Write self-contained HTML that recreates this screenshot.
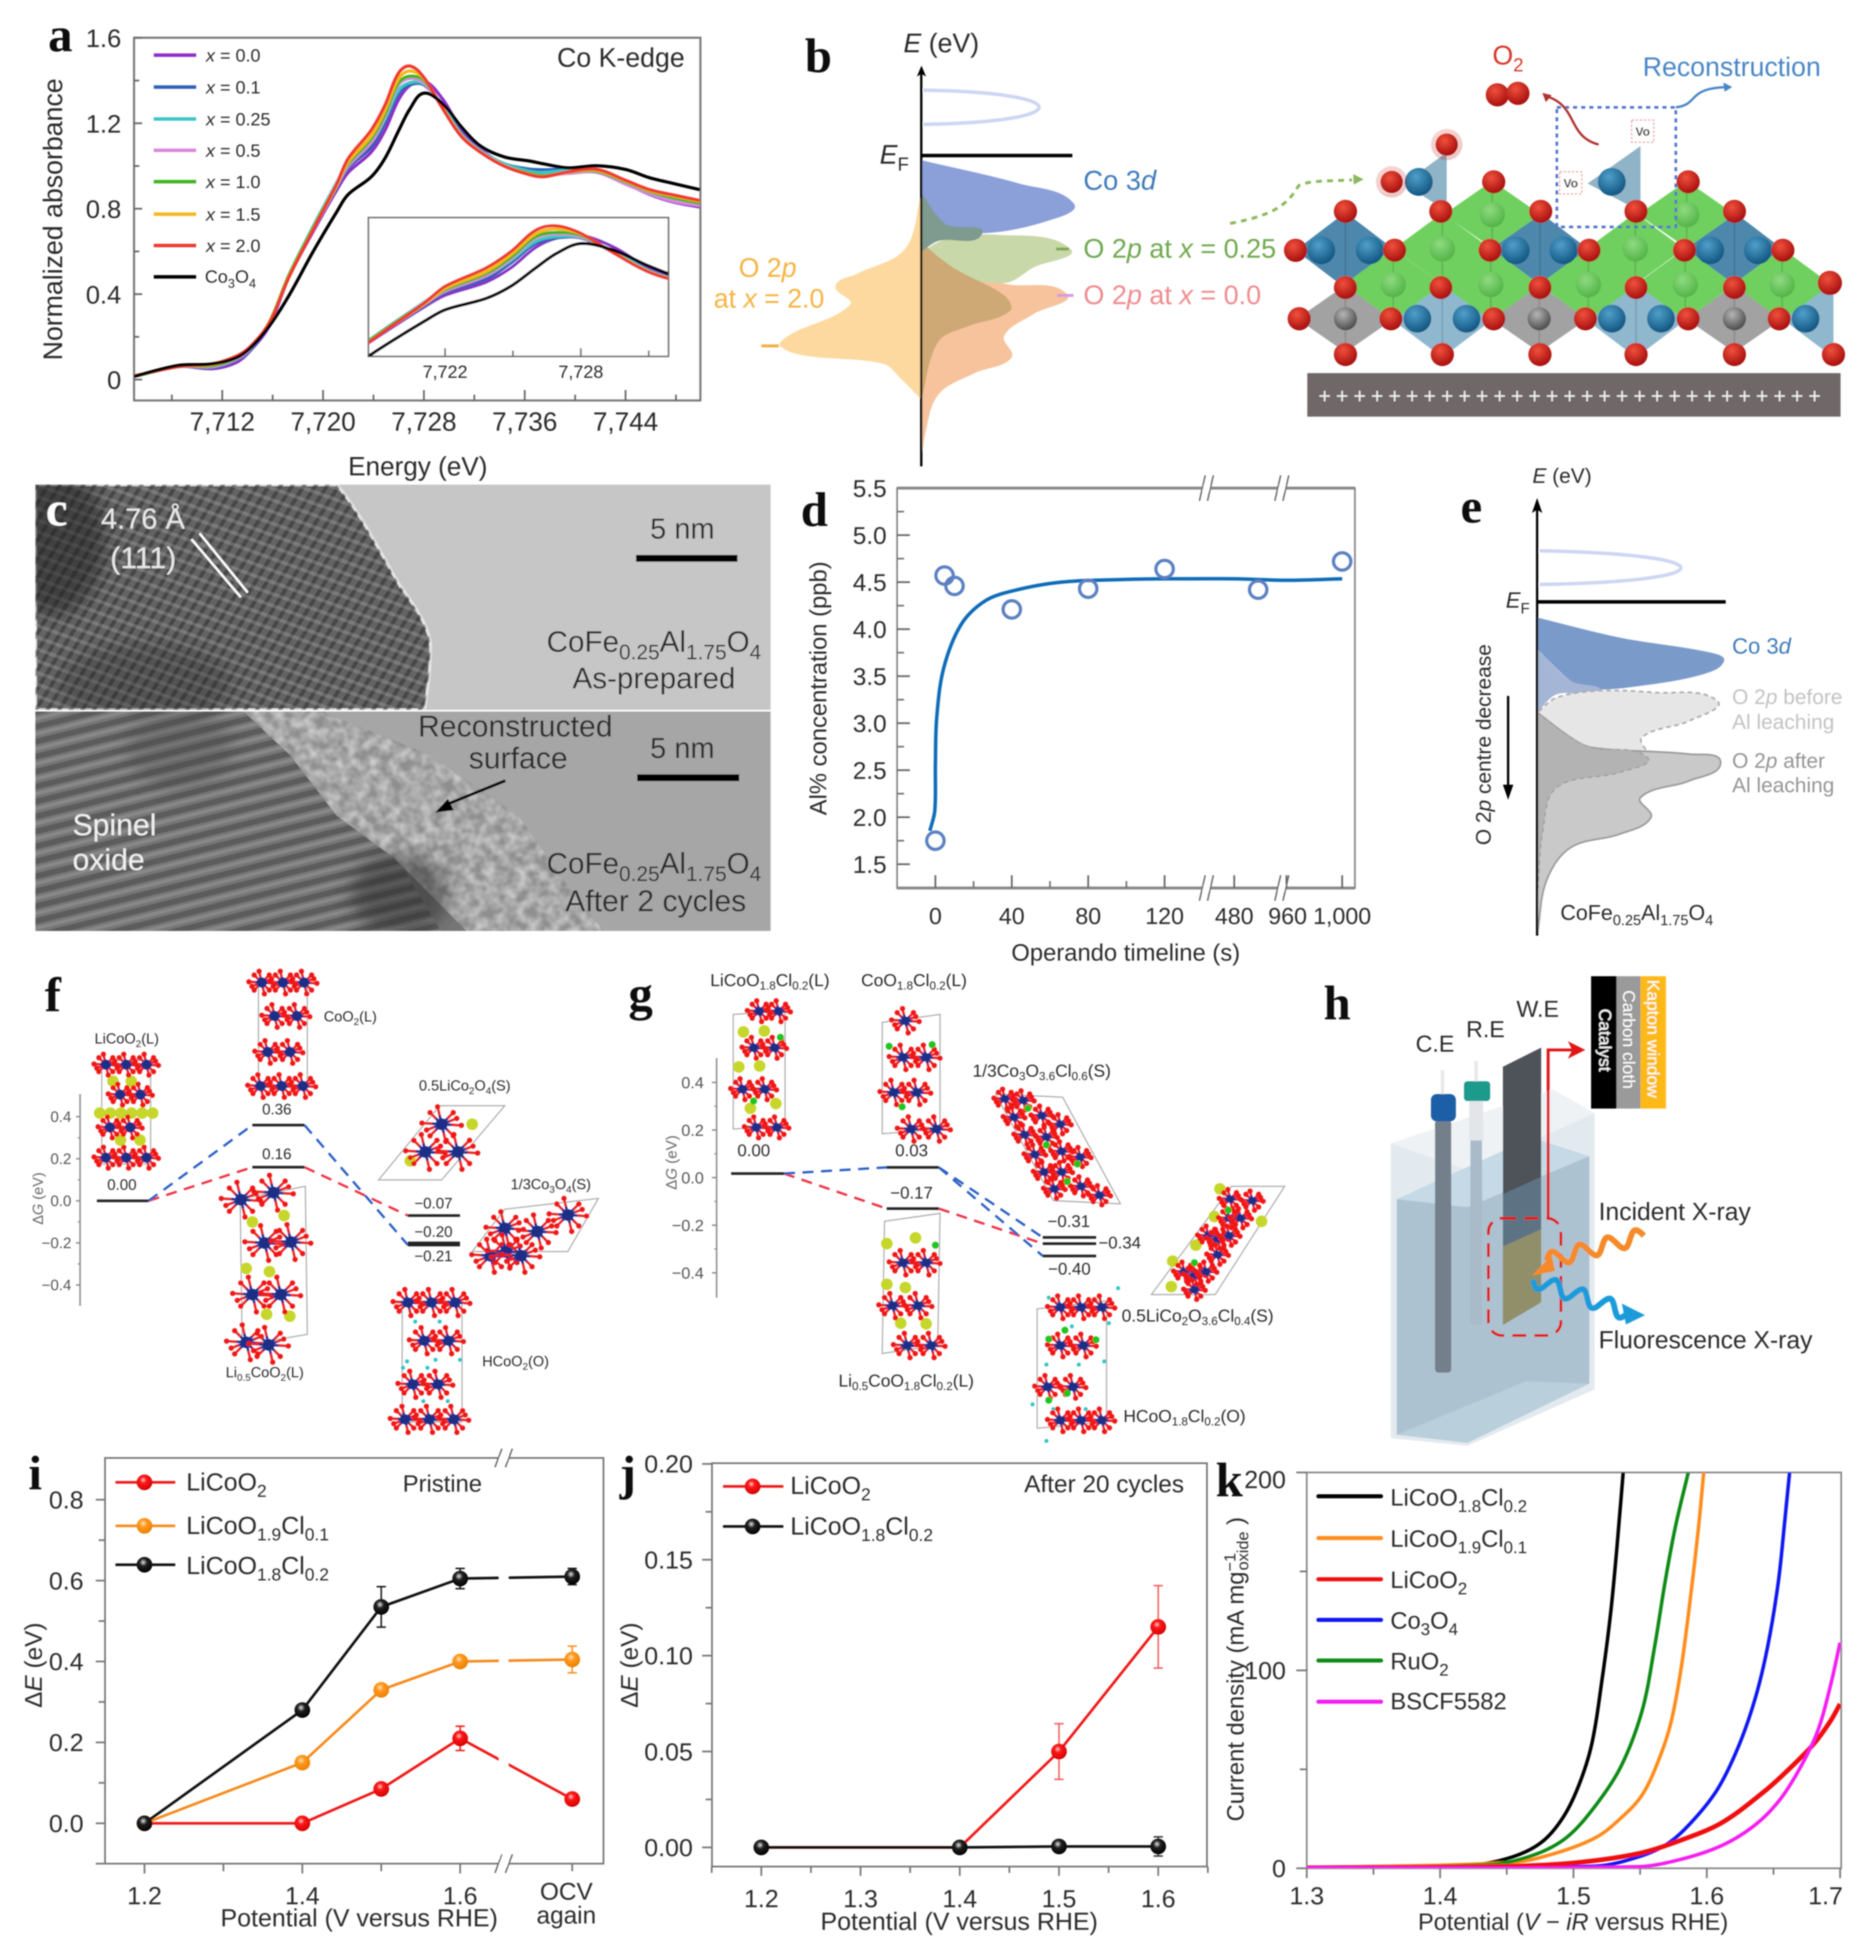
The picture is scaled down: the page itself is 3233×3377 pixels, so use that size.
<!DOCTYPE html>
<html lang="en">
<head>
<meta charset="utf-8">
<title>Multi-panel spinel and LiCoO2 figure</title>
<style>
html,body{margin:0;padding:0;background:#fff;width:3233px;height:3377px;overflow:hidden}
svg{display:block}
svg text{font-family:"Liberation Sans",sans-serif;fill:#2c2c2c}
.pl{font-family:"Liberation Serif",serif;font-weight:bold;font-size:84px;fill:#111}
.i{font-style:italic}
</style>
</head>
<body>
<svg id="fig" xmlns="http://www.w3.org/2000/svg" width="3233" height="3377" viewBox="0 0 3233 3377">
<defs>
<filter id="soft" filterUnits="userSpaceOnUse" x="0" y="0" width="3233" height="3377"><feGaussianBlur stdDeviation="1.1"/></filter>
<filter id="blur6" x="-20%" y="-20%" width="140%" height="140%"><feGaussianBlur stdDeviation="14"/></filter>
<filter id="noise" x="0" y="0" width="100%" height="100%"><feTurbulence type="fractalNoise" baseFrequency="0.055" numOctaves="2" seed="7"/><feColorMatrix type="matrix" values="0 0 0 0 .66  0 0 0 0 .66  0 0 0 0 .66  1.6 0 0 0 -.45"/></filter>
<pattern id="latA" width="17" height="17" patternUnits="userSpaceOnUse" patternTransform="rotate(-58)"><rect width="17" height="17" fill="none"/><rect width="17" height="7" fill="#2f2f2f" opacity=".55"/></pattern>
<pattern id="latB" width="19" height="19" patternUnits="userSpaceOnUse" patternTransform="rotate(20)"><rect width="19" height="6" fill="#b5b5b5" opacity=".28"/></pattern>
<pattern id="latC" width="25" height="25" patternUnits="userSpaceOnUse" patternTransform="rotate(-14)"><rect width="25" height="10" fill="#3f3f3f" opacity=".5"/><rect y="14" width="25" height="6" fill="#a9a9a9" opacity=".35"/></pattern>
<radialGradient id="bRed" cx=".42" cy=".35" r=".65"><stop offset="0" stop-color="#ffd0d0"/><stop offset=".3" stop-color="#ff1a1a"/><stop offset="1" stop-color="#d40000"/></radialGradient>
<radialGradient id="bOrange" cx=".42" cy=".35" r=".65"><stop offset="0" stop-color="#ffe3b8"/><stop offset=".35" stop-color="#ff9a1f"/><stop offset="1" stop-color="#ea8000"/></radialGradient>
<radialGradient id="bBlack" cx=".42" cy=".35" r=".65"><stop offset="0" stop-color="#e8e8e8"/><stop offset=".35" stop-color="#222"/><stop offset="1" stop-color="#000"/></radialGradient>
<radialGradient id="aRed" cx=".4" cy=".32" r=".7"><stop offset="0" stop-color="#f0503c"/><stop offset="1" stop-color="#a50d0d"/></radialGradient>
<radialGradient id="aBlue" cx=".4" cy=".32" r=".7"><stop offset="0" stop-color="#4f9fca"/><stop offset="1" stop-color="#105580"/></radialGradient>
<radialGradient id="aGray" cx=".4" cy=".32" r=".7"><stop offset="0" stop-color="#b5b5b5"/><stop offset="1" stop-color="#4a4a4a"/></radialGradient>
<radialGradient id="aGreen" cx=".4" cy=".32" r=".7"><stop offset="0" stop-color="#8edb7f"/><stop offset="1" stop-color="#52b347"/></radialGradient>
<clipPath id="clipA"><rect x="231" y="65" width="976" height="625"/></clipPath>
<clipPath id="clipIn"><rect x="635" y="375" width="517" height="239"/></clipPath>
<clipPath id="clipK"><rect x="2252" y="2537" width="921" height="682"/></clipPath>
<clipPath id="clipTem1"><rect x="61" y="835" width="1267" height="388"/></clipPath>
<clipPath id="clipTem2"><rect x="61" y="1226" width="1267" height="378"/></clipPath>
<clipPath id="clipRecon"><polygon points="420,1226 554,1226 741,1301 893,1405 982,1531 1040,1604 804,1604 679,1478 580,1405 500,1301"/></clipPath>
<marker id="arrRed" markerWidth="6" markerHeight="6" refX="4" refY="3" orient="auto"><path d="M0,0L6,3L0,6L1.5,3Z" fill="#e01515"/></marker>
</defs>
<rect width="3233" height="3377" fill="#fff"/>
<g id="root" filter="url(#soft)">

<!-- panel c TEM -->
<g id="panelC">
 <g clip-path="url(#clipTem1)">
  <rect x="61" y="835" width="1267" height="388" fill="#c6c6c6"/>
  <path d="M61,835L580,835C620,880 660,960 690,1010C720,1050 745,1090 742,1120C742,1160 735,1200 732,1223L61,1223Z" fill="#646464" stroke="#e4e4e4" stroke-width="5"/>
  <path d="M61,835L580,835C620,880 660,960 690,1010C720,1050 745,1090 742,1120C742,1160 735,1200 732,1223L61,1223Z" fill="url(#latA)"/>
  <path d="M61,835L580,835C620,880 660,960 690,1010C720,1050 745,1090 742,1120C742,1160 735,1200 732,1223L61,1223Z" fill="url(#latB)"/>
  <ellipse cx="90" cy="930" rx="90" ry="130" fill="#1c1c1c" opacity=".5" filter="url(#blur6)"/>
  <ellipse cx="250" cy="1180" rx="150" ry="70" fill="#2a2a2a" opacity=".3" filter="url(#blur6)"/>
 </g>
 <g clip-path="url(#clipTem2)">
  <rect x="61" y="1226" width="1267" height="378" fill="#a6a6a6"/>
  <path d="M61,1226L420,1226L554,1226L741,1301L893,1405L982,1531L1040,1604L61,1604Z" fill="#767676"/>
  <path d="M61,1226L560,1226L640,1405L760,1604L61,1604Z" fill="url(#latC)"/>
  <path d="M420,1226L554,1226L741,1301L893,1405L982,1531L1040,1604L804,1604L679,1478L580,1405L500,1301Z" fill="#8f8f8f"/>
  <g clip-path="url(#clipRecon)"><rect x="400" y="1226" width="660" height="378" filter="url(#noise)" fill="#999"/></g>
  <ellipse cx="690" cy="1540" rx="85" ry="70" fill="#2a2a2a" opacity=".5" filter="url(#blur6)"/>
  <ellipse cx="310" cy="1290" rx="90" ry="70" fill="#444" opacity=".3" filter="url(#blur6)"/>
 </g>
 <text class="pl" x="79" y="905" style="fill:#fff">c</text>
 <text x="174" y="911" font-size="50" style="fill:#e8e8e8">4.76 Å</text>
 <text x="190" y="979" font-size="52" style="fill:#e8e8e8">(111)</text>
 <line x1="330" y1="929" x2="415" y2="1029" stroke="#fff" stroke-width="4"/>
 <line x1="344" y1="919" x2="427" y2="1021" stroke="#fff" stroke-width="4"/>
 <text x="1176" y="928" font-size="50" text-anchor="middle">5 nm</text>
 <rect x="1096" y="956" width="175" height="12" fill="#000"/>
 <text x="942" y="1123" font-size="51">CoFe<tspan font-size="36" dy="13">0.25</tspan><tspan dy="-13">Al</tspan><tspan font-size="36" dy="13">1.75</tspan><tspan dy="-13">O</tspan><tspan font-size="36" dy="13">4</tspan></text>
 <text x="1127" y="1186" font-size="51" text-anchor="middle">As-prepared</text>
 <text x="888" y="1269" font-size="52" text-anchor="middle">Reconstructed</text>
 <text x="893" y="1324" font-size="52" text-anchor="middle">surface</text>
 <text x="1176" y="1306" font-size="50" text-anchor="middle">5 nm</text>
 <rect x="1098" y="1334" width="176" height="12" fill="#000"/>
 <path d="M871,1345L765,1388" stroke="#000" stroke-width="5" fill="none"/>
 <path d="M750,1400L772,1376L782,1396Z" fill="#000"/>
 <text x="125" y="1439" font-size="52" style="fill:#f0f0f0">Spinel</text>
 <text x="125" y="1499" font-size="52" style="fill:#f0f0f0">oxide</text>
 <text x="942" y="1505" font-size="51">CoFe<tspan font-size="36" dy="13">0.25</tspan><tspan dy="-13">Al</tspan><tspan font-size="36" dy="13">1.75</tspan><tspan dy="-13">O</tspan><tspan font-size="36" dy="13">4</tspan></text>
 <text x="1130" y="1570" font-size="52" text-anchor="middle">After 2 cycles</text>
</g>

<!-- panel a -->
<g id="panelA">
 <text class="pl" x="83" y="88">a</text>
 <text transform="translate(107,378) rotate(-90)" text-anchor="middle" font-size="46">Normalized absorbance</text>
 <text x="720" y="819" text-anchor="middle" font-size="45">Energy (eV)</text>
 <text x="960" y="115" font-size="46">Co K-edge</text>
 <g font-size="31">
 <text x="355" y="106"><tspan class="i">x</tspan> = 0.0</text>
 <text x="355" y="161"><tspan class="i">x</tspan> = 0.1</text>
 <text x="355" y="216"><tspan class="i">x</tspan> = 0.25</text>
 <text x="355" y="270"><tspan class="i">x</tspan> = 0.5</text>
 <text x="355" y="324"><tspan class="i">x</tspan> = 1.0</text>
 <text x="355" y="380"><tspan class="i">x</tspan> = 1.5</text>
 <text x="355" y="434"><tspan class="i">x</tspan> = 2.0</text>
 <text x="353" y="487">Co<tspan font-size="22" dy="9">3</tspan><tspan dy="-9">O</tspan><tspan font-size="22" dy="9">4</tspan></text>
 </g>
</g>

<!-- panel b -->
<g id="panelB">
 <text class="pl" x="1387" y="124">b</text>
 <text x="1557" y="90" font-size="46"><tspan class="i">E</tspan> (eV)</text>
 <text x="1516" y="282" font-size="46"><tspan class="i">E</tspan><tspan font-size="32" dy="12">F</tspan></text>
 <text x="1867" y="327" font-size="47" style="fill:#3f7bb9">Co 3<tspan class="i">d</tspan></text>
 <text x="1867" y="444" font-size="46.5" style="fill:#6fa84f">O 2<tspan class="i">p</tspan> at <tspan class="i">x</tspan> = 0.25</text>
 <text x="1867" y="524" font-size="46.5" style="fill:#ef8b8f">O 2<tspan class="i">p</tspan> at <tspan class="i">x</tspan> = 0.0</text>
 <text x="1273" y="477" font-size="46" style="fill:#f6b443">O 2<tspan class="i">p</tspan></text>
 <text x="1230" y="530" font-size="46" style="fill:#f6b443">at <tspan class="i">x</tspan> = 2.0</text>
 <text x="2831" y="131" font-size="46" style="fill:#4a86c6">Reconstruction</text>
 <text x="2572" y="111" font-size="46" style="fill:#d9362a">O<tspan font-size="32" dy="12">2</tspan></text>
</g>
<g id="lattice"></g>

<!-- panel d -->
<g id="panelD">
 <text class="pl" x="1380" y="906">d</text>
 <text transform="translate(1424,1186) rotate(-90)" text-anchor="middle" font-size="41">Al% concentration (ppb)</text>
 <text x="1940" y="1655" text-anchor="middle" font-size="41">Operando timeline (s)</text>
</g>

<!-- panel e -->
<g id="panelE">
 <text class="pl" x="2517" y="900">e</text>
 <text x="2641" y="832" font-size="36"><tspan class="i">E</tspan> (eV)</text>
 <text x="2595" y="1047" font-size="38"><tspan class="i">E</tspan><tspan font-size="26" dy="10">F</tspan></text>
 <text x="2985" y="1126" font-size="38" style="fill:#3f7bb9">Co 3<tspan class="i">d</tspan></text>
 <text x="2985" y="1213" font-size="36" style="fill:#c2c2c2">O 2<tspan class="i">p</tspan> before</text>
 <text x="2985" y="1256" font-size="36" style="fill:#c2c2c2">Al leaching</text>
 <text x="2985" y="1323" font-size="36" style="fill:#959595">O 2<tspan class="i">p</tspan> after</text>
 <text x="2985" y="1365" font-size="36" style="fill:#959595">Al leaching</text>
 <text x="2689" y="1585" font-size="37">CoFe<tspan font-size="25" dy="9">0.25</tspan><tspan dy="-9">Al</tspan><tspan font-size="25" dy="9">1.75</tspan><tspan dy="-9">O</tspan><tspan font-size="25" dy="9">4</tspan></text>
 <text transform="translate(2569,1283) rotate(-90)" text-anchor="middle" font-size="36">O 2<tspan class="i">p</tspan> centre decrease</text>
</g>

<!-- panel f -->
<g id="panelF" font-size="25">
 <text class="pl" x="77" y="1742">f</text>
 <text transform="translate(74,2065) rotate(-90)" text-anchor="middle" font-size="25" style="fill:#666">Δ<tspan class="i">G</tspan> (eV)</text>
 <text x="163" y="1798">LiCoO<tspan font-size="17" dy="6">2</tspan><tspan dy="-6">(L)</tspan></text>
 <text x="558" y="1760">CoO<tspan font-size="17" dy="6">2</tspan><tspan dy="-6">(L)</tspan></text>
 <text x="722" y="1879">0.5LiCo<tspan font-size="17" dy="6">2</tspan><tspan dy="-6">O</tspan><tspan font-size="17" dy="6">4</tspan><tspan dy="-6">(S)</tspan></text>
 <text x="880" y="2049">1/3Co<tspan font-size="17" dy="6">3</tspan><tspan dy="-6">O</tspan><tspan font-size="17" dy="6">4</tspan><tspan dy="-6">(S)</tspan></text>
 <text x="831" y="2354">HCoO<tspan font-size="17" dy="6">2</tspan><tspan dy="-6">(O)</tspan></text>
 <text x="389" y="2373">Li<tspan font-size="17" dy="6">0.5</tspan><tspan dy="-6">CoO</tspan><tspan font-size="17" dy="6">2</tspan><tspan dy="-6">(L)</tspan></text>
</g>

<!-- panel g -->
<g id="panelG" font-size="30">
 <text class="pl" x="1083" y="1740">g</text>
 <text transform="translate(1166,2003) rotate(-90)" text-anchor="middle" font-size="26" style="fill:#666">Δ<tspan class="i">G</tspan> (eV)</text>
 <text x="1224" y="1699">LiCoO<tspan font-size="20" dy="6">1.8</tspan><tspan dy="-6">Cl</tspan><tspan font-size="20" dy="6">0.2</tspan><tspan dy="-6">(L)</tspan></text>
 <text x="1484" y="1699">CoO<tspan font-size="20" dy="6">1.8</tspan><tspan dy="-6">Cl</tspan><tspan font-size="20" dy="6">0.2</tspan><tspan dy="-6">(L)</tspan></text>
 <text x="1676" y="1855">1/3Co<tspan font-size="20" dy="6">3</tspan><tspan dy="-6">O</tspan><tspan font-size="20" dy="6">3.6</tspan><tspan dy="-6">Cl</tspan><tspan font-size="20" dy="6">0.6</tspan><tspan dy="-6">(S)</tspan></text>
 <text x="1445" y="2389">Li<tspan font-size="20" dy="6">0.5</tspan><tspan dy="-6">CoO</tspan><tspan font-size="20" dy="6">1.8</tspan><tspan dy="-6">Cl</tspan><tspan font-size="20" dy="6">0.2</tspan><tspan dy="-6">(L)</tspan></text>
 <text x="1933" y="2277">0.5LiCo<tspan font-size="20" dy="6">2</tspan><tspan dy="-6">O</tspan><tspan font-size="20" dy="6">3.6</tspan><tspan dy="-6">Cl</tspan><tspan font-size="20" dy="6">0.4</tspan><tspan dy="-6">(S)</tspan></text>
 <text x="1936" y="2450">HCoO<tspan font-size="20" dy="6">1.8</tspan><tspan dy="-6">Cl</tspan><tspan font-size="20" dy="6">0.2</tspan><tspan dy="-6">(O)</tspan></text>
</g>

<!-- panel h -->
<g id="panelH">
 <text class="pl" x="2281" y="1756">h</text>
 <polygon points="2397,1970 2676,1877 2748,1918 2748,2394 2529,2491 2397,2478" fill="#e3eaef"/>
 <polygon points="2397,1970 2529,2016 2748,1918 2676,1877" fill="#eef2f5"/>
 <polygon points="2407,2066 2529,2080 2739,1992 2640,1960" fill="#c5d9e6"/>
 <polygon points="2407,2066 2529,2080 2739,1992 2739,2384 2529,2486 2407,2472" fill="#adc2d0"/>
 <polygon points="2407,2472 2529,2486 2739,2384 2630,2380" fill="#b9cfdb"/>
 <rect x="2483" y="1844" width="6" height="50" fill="#e8e8e8"/>
 <rect x="2473" y="1930" width="28" height="435" rx="6" fill="#737f8a"/>
 <rect x="2466" y="1885" width="43" height="47" rx="10" fill="#1b5fa6"/>
 <rect x="2541" y="1828" width="6" height="40" fill="#e8e8e8"/>
 <rect x="2534" y="1960" width="20" height="322" fill="#a9bac8"/>
 <rect x="2532" y="1895" width="24" height="70" fill="#e2e6e9"/>
 <rect x="2523" y="1863" width="45" height="34" rx="6" fill="#1c9a8c"/>
 <polygon points="2590,1838 2656,1805 2656,2028 2590,2058" fill="#4e5359"/>
 <polygon points="2590,2058 2656,2028 2656,2118 2590,2148" fill="#5d7384"/>
 <polygon points="2590,2148 2656,2118 2656,2244 2590,2283" fill="#908f69"/>
 <rect x="2565" y="2099" width="125" height="202" rx="24" fill="none" stroke="#e01515" stroke-width="5" stroke-dasharray="24 14"/>
 <path d="M2668,2099L2668,1809L2722,1809" fill="none" stroke="#e01515" stroke-width="5" marker-end="url(#arrRed)"/>
 <rect x="2742" y="1682" width="45" height="228" fill="#000"/>
 <rect x="2786" y="1682" width="41" height="228" fill="#9a9a9a"/>
 <rect x="2827" y="1682" width="44" height="228" fill="#fdb913"/>
 <text transform="translate(2756,1738) rotate(90)" font-size="30" style="fill:#fff">Catalyst</text>
 <text transform="translate(2797,1706) rotate(90)" font-size="30" style="fill:#fff">Carbon cloth</text>
 <text transform="translate(2839,1688) rotate(90)" font-size="30" style="fill:#fff">Kapton window</text>
 <text x="2473" y="1812" text-anchor="middle" font-size="40">C.E</text>
 <text x="2560" y="1787" text-anchor="middle" font-size="40">R.E</text>
 <text x="2650" y="1752" text-anchor="middle" font-size="40">W.E</text>
 <text x="2755" y="2102" font-size="42.5">Incident X-ray</text>
 <text x="2755" y="2323" font-size="42.5">Fluorescence X-ray</text>
 <path id="waveO" fill="none" stroke="#f58a2c" stroke-width="10"/>
 <path d="M2640,2198L2674,2162L2680,2190Z" fill="#f58a2c"/>
 <path id="waveB" fill="none" stroke="#1f9bdb" stroke-width="10"/>
 <path d="M2835,2266L2795,2246L2802,2282Z" fill="#1f9bdb"/>
</g>

<!-- panel i -->
<g id="panelI">
 <text class="pl" x="49" y="2566">i</text>
 <text transform="translate(72,2869) rotate(-90)" text-anchor="middle" font-size="42">Δ<tspan class="i">E</tspan> (eV)</text>
 <text x="619" y="3319" text-anchor="middle" font-size="43">Potential (V versus RHE)</text>
 <text x="694" y="2570" font-size="41">Pristine</text>
 <text x="321" y="2568" font-size="43">LiCoO<tspan font-size="30" dy="11">2</tspan></text>
 <text x="321" y="2643" font-size="43">LiCoO<tspan font-size="30" dy="11">1.9</tspan><tspan dy="-11">Cl</tspan><tspan font-size="30" dy="11">0.1</tspan></text>
 <text x="321" y="2712" font-size="43">LiCoO<tspan font-size="30" dy="11">1.8</tspan><tspan dy="-11">Cl</tspan><tspan font-size="30" dy="11">0.2</tspan></text>
</g>

<!-- panel j -->
<g id="panelJ">
 <text class="pl" x="1068" y="2566">j</text>
 <text transform="translate(1099,2869) rotate(-90)" text-anchor="middle" font-size="42">Δ<tspan class="i">E</tspan> (eV)</text>
 <text x="1653" y="3325" text-anchor="middle" font-size="43">Potential (V versus RHE)</text>
 <text x="1765" y="2571" font-size="42">After 20 cycles</text>
 <text x="1362" y="2574" font-size="43">LiCoO<tspan font-size="30" dy="11">2</tspan></text>
 <text x="1362" y="2644" font-size="43">LiCoO<tspan font-size="30" dy="11">1.8</tspan><tspan dy="-11">Cl</tspan><tspan font-size="30" dy="11">0.2</tspan></text>
</g>

<!-- panel k -->
<g id="panelK">
 <text class="pl" x="2095" y="2578">k</text>
 <text transform="translate(2143,2876) rotate(-90)" text-anchor="middle" font-size="41">Current density (mA mg<tspan font-size="28" dy="-14">−1</tspan><tspan font-size="28" dy="22" dx="-30">oxide</tspan><tspan dy="-8"> )</tspan></text>
 <text x="2711" y="3325" text-anchor="middle" font-size="40.5">Potential (<tspan class="i">V</tspan> − <tspan class="i">iR</tspan> versus RHE)</text>
 <text x="2396" y="2594" font-size="41">LiCoO<tspan font-size="29" dy="11">1.8</tspan><tspan dy="-11">Cl</tspan><tspan font-size="29" dy="11">0.2</tspan></text>
 <text x="2396" y="2665" font-size="41">LiCoO<tspan font-size="29" dy="11">1.9</tspan><tspan dy="-11">Cl</tspan><tspan font-size="29" dy="11">0.1</tspan></text>
 <text x="2396" y="2736" font-size="41">LiCoO<tspan font-size="29" dy="11">2</tspan></text>
 <text x="2396" y="2806" font-size="41">Co<tspan font-size="29" dy="11">3</tspan><tspan dy="-11">O</tspan><tspan font-size="29" dy="11">4</tspan></text>
 <text x="2396" y="2876" font-size="41">RuO<tspan font-size="29" dy="11">2</tspan></text>
 <text x="2396" y="2945" font-size="41">BSCF5582</text>
</g>
</g>
</svg>

<script>
/* ---------- panel a data ---------- */
const aEnergy=[7705,7708.5,7711.2,7713.1,7714.2,7715.7,7717.3,7719.2,7721.1,7722,7723.8,7724.9,7726,7726.9,7728,7729.5,7731,7732.5,7734.4,7736.4,7737.5,7739.4,7741.7,7744,7745.9,7747.8,7749.9];
const aX00=[.015,.061,.051,.08,.134,.248,.481,.692,.889,.97,1.064,1.166,1.312,1.378,1.40,1.312,1.166,1.079,1.006,.98,.977,.98,.98,.918,.867,.831,.808];
const aX01=[.015,.061,.055,.09,.138,.255,.481,.70,.90,.99,1.087,1.2,1.34,1.38,1.38,1.28,1.15,1.07,1.01,.985,.982,.985,.985,.925,.875,.84,.82];
const aX025=[.015,.061,.06,.095,.142,.262,.49,.715,.925,1.02,1.11,1.22,1.355,1.39,1.385,1.28,1.145,1.07,1.01,.975,.97,.98,.98,.925,.875,.84,.82];
const aX05=[.015,.061,.06,.095,.145,.262,.485,.705,.91,1.0,1.11,1.23,1.38,1.41,1.39,1.27,1.14,1.065,1.0,.965,.955,.965,.97,.915,.87,.835,.815];
const aX10=[.015,.061,.065,.1,.148,.265,.49,.71,.915,1.01,1.125,1.24,1.39,1.42,1.40,1.27,1.14,1.065,1.0,.965,.955,.97,.975,.925,.88,.85,.825];
const aX15=[.017,.061,.07,.105,.15,.262,.48,.70,.91,1.02,1.14,1.26,1.41,1.445,1.41,1.27,1.14,1.065,1.0,.96,.95,.97,.98,.93,.885,.86,.835];
const aX20=[.017,.061,.073,.109,.153,.262,.481,.70,.918,1.035,1.166,1.283,1.436,1.468,1.414,1.268,1.137,1.064,.999,.959,.95,.972,.984,.933,.889,.864,.838];
const aCo3O4=[.015,.066,.073,.102,.146,.248,.394,.598,.787,.867,.948,1.035,1.166,1.268,1.341,1.29,1.181,1.093,1.042,1.023,1.01,.991,1.001,.984,.945,.918,.889];
const aXTicks=[7712,7720,7728,7736,7744];
const aXLabels=["7,712","7,720","7,728","7,736","7,744"];
const aYTicks=[0,.4,.8,1.2,1.6];
const aYLabels=["0","0.4","0.8","1.2","1.6"];
const aInsetTicks=[7722,7728];
const aInsetLabels=["7,722","7,728"];

/* ---------- panel d data ---------- */
const dTimes=[0,4.8,10,40,80,120,700,1000];
const dValues=[1.75,4.57,4.46,4.21,4.43,4.64,4.42,4.72];
const dFitT=[-2.9,-0.3,0,0.7,4.4,13.5,26,41,66,102,120,480,960,1000];
const dFitV=[1.855,2.07,2.56,3.06,3.59,4.05,4.30,4.41,4.50,4.53,4.535,4.535,4.52,4.535];
const dXTicks=[0,40,80,120,480,960,1000];
const dXLabels=["0","40","80","120","480","960","1,000"];
const dYTicks=[1.5,2,2.5,3,3.5,4,4.5,5,5.5];
const dYLabels=["1.5","2.0","2.5","3.0","3.5","4.0","4.5","5.0","5.5"];

/* ---------- panels f, g data ---------- */
const fYTicks=[-.4,-.2,0,.2,.4];
const fYLabels=["−0.4","−0.2","0.0","0.2","0.4"];
const fLevels=[0,.36,.16,-.07,-.20,-.21];
const fLevelLabels=["0.00","0.36","0.16","−0.07","−0.20","−0.21"];
const gYTicks=[-.4,-.2,0,.2,.4];
const gYLabels=["−0.4","−0.2","0.0","0.2","0.4"];
const gLevels=[0,.03,-.17,-.31,-.34,-.40];
const gLevelLabels=["0.00","0.03","−0.17","−0.31","−0.34","−0.40"];

/* ---------- panel i data ---------- */
const iPotentials=[1.2,1.4,1.5,1.6,1.742];
const iXLabels=["1.2","1.4","1.6"];
const iXLabelTicks=[1.2,1.4,1.6];
const iMinorX=[1.3,1.5,1.742];
const iYTicks=[0,.2,.4,.6,.8];
const iYLabels=["0.0","0.2","0.4","0.6","0.8"];
const iLiCoO2=[0,0,.085,.21,.06];
const iLiCoO2Err=[0,0,0,.03,0];
const iCl01=[0,.15,.33,.40,.405];
const iCl01Err=[0,0,0,0,.033];
const iCl02=[0,.28,.535,.605,.61];
const iCl02Err=[0,0,.05,.025,.02];

/* ---------- panel j data ---------- */
const jPotentials=[1.2,1.4,1.5,1.6];
const jXTicks=[1.2,1.3,1.4,1.5,1.6];
const jXLabels=["1.2","1.3","1.4","1.5","1.6"];
const jYTicks=[0,.05,.1,.15,.2];
const jYLabels=["0.00","0.05","0.10","0.15","0.20"];
const jLiCoO2=[0,0,.05,.115];
const jLiCoO2Err=[0,0,.0145,.0215];
const jCl02=[0,0,.0005,.0005];
const jCl02Err=[0,0,.001,.005];

/* ---------- panel k data ---------- */
const kXTicks=[1.3,1.4,1.5,1.6,1.7];
const kXLabels=["1.3","1.4","1.5","1.6","1.7"];
const kYTicks=[0,100,200];
const kYLabels=["0","100","200"];
const kBlackP=[1.3,1.4226,1.454,1.476,1.492,1.504,1.5138,1.5216,1.5279,1.5326,1.5373];
const kBlackJ=[.3,1.6,5.7,13.1,25.5,41.9,63,96,129,162,200];
const kGreenP=[1.3,1.4383,1.4698,1.4949,1.5169,1.5358,1.5515,1.561,1.5688,1.5766,1.5861];
const kGreenJ=[.3,2,6.6,15.6,32,51.7,79.6,112.5,145,173,200];
const kOrangeP=[1.3,1.454,1.4855,1.5169,1.5358,1.5515,1.5641,1.5735,1.5814,1.5892,1.5939,1.5977];
const kOrangeJ=[.3,3,7.4,15.6,25.5,37,55,74.7,104,145,173,200];
const kBlueP=[1.3,1.5169,1.5483,1.5703,1.5892,1.6081,1.6238,1.6364,1.6458,1.6537,1.6584,1.6621];
const kBlueJ=[.2,1.1,5.7,12.3,23.8,40,61.6,86,112.5,145,175,200];
const kRedP=[1.3,1.454,1.5012,1.5483,1.5798,1.6112,1.6427,1.6615,1.6804,1.693,1.6999];
const kRedJ=[.3,1.1,2.8,7.4,14,23,38.6,50,63,74.7,83];
const kMagentaP=[1.3,1.5483,1.5798,1.6112,1.6364,1.6552,1.671,1.6835,1.693,1.6999];
const kMagentaJ=[.2,.8,4.4,11.5,22,35,52,70,93,114];

/* ---------- helpers ---------- */
const NS='http://www.w3.org/2000/svg';
const $=id=>document.getElementById(id);
function mk(parent,tag,attrs,name){
  const el=document.createElementNS(NS,tag);
  for(const k in attrs)el.setAttribute(k,attrs[k]);
  
  
  parent.appendChild(el);
  return el;
}
function txt(parent,x,y,s,size,anchor,name){
  const el=mk(parent,'text',{x:x,y:y,'font-size':size,'text-anchor':anchor||'start'},name);
  el.textContent=s;
  return el;
}
function smooth(p){
  let d='M'+p[0][0].toFixed(1)+','+p[0][1].toFixed(1);
  const dir=(u,v)=>{
    const dx=v[0]-u[0],dy=v[1]-u[1],l=Math.hypot(dx,dy)||1;
    return [dx/l,dy/l];
  };
  for(let i=0;i<p.length-1;i++){
    const a=p[Math.max(i-1,0)],b=p[i],c=p[i+1],e=p[Math.min(i+2,p.length-1)];
    const seg=Math.hypot(c[0]-b[0],c[1]-b[1])/3;
    const t1=dir(a,c),t2=dir(b,e);
    const c1=[b[0]+t1[0]*seg,b[1]+t1[1]*seg],c2=[c[0]-t2[0]*seg,c[1]-t2[1]*seg];
    d+='C'+c1[0].toFixed(1)+','+c1[1].toFixed(1)+' '+c2[0].toFixed(1)+','+c2[1].toFixed(1)+' '+c[0].toFixed(1)+','+c[1].toFixed(1);
  }
  return d;
}
function tick(g,x1,y1,x2,y2,col,w,name){
  mk(g,'line',{x1:x1,y1:y1,x2:x2,y2:y2,stroke:col,'stroke-width':w},name);
}

/* ---------- panel a ---------- */
(function(){
  const g=$('panelA');
  const ax=e=>383+(e-7712)*21.72, ay=v=>654-v*368;
  const ix=e=>767+(e-7722)*39, iy=v=>389+(1.468-v)*241;
  mk(g,'rect',{x:231,y:65,width:976,height:625,fill:'none',stroke:'#777','stroke-width':3.5},'plot-frame-a');
  aXTicks.forEach((t,i)=>{
    tick(g,ax(t),690,ax(t),672,'#666',3,'x-tick-a');
    txt(g,ax(t),742,aXLabels[i],45,'middle','x-tick-label-a');
    if(t<7744)tick(g,ax(t+4),690,ax(t+4),680,'#666',3,'x-minor-tick-a');
  });
  tick(g,ax(7708),690,ax(7708),680,'#666',3,'x-minor-tick-a');
  tick(g,ax(7748),690,ax(7748),680,'#666',3,'x-minor-tick-a');
  aYTicks.forEach((t,i)=>{
    tick(g,231,ay(t),245,ay(t),'#666',3,'y-tick-a');
    txt(g,209,ay(t)+16,aYLabels[i],44,'end','y-tick-label-a');
    if(t<1.6)tick(g,231,ay(t+.2),240,ay(t+.2),'#666',3,'y-minor-tick-a');
  });
  const series=[[aX00,'#8b2fc9','x-0.0'],[aX01,'#2d5fb8','x-0.1'],[aX025,'#3cc4c4','x-0.25'],[aX05,'#d887dc','x-0.5'],[aX10,'#3fb51f','x-1.0'],[aX15,'#f4b81e','x-1.5'],[aX20,'#ee3b33','x-2.0'],[aCo3O4,'#000','co3o4']];
  const clip=mk(g,'g',{'clip-path':'url(#clipA)'},'spectra-main');
  series.forEach(s=>{
    mk(clip,'path',{d:smooth(aEnergy.map((e,i)=>[ax(e),ay(s[0][i])])),fill:'none',stroke:s[1],'stroke-width':5.5},'spectrum-'+s[2]);
  });
  [95,150,205,259,313,369,423,477].forEach((y,i)=>{
    mk(g,'line',{x1:265,y1:y,x2:338,y2:y,stroke:series[i][1],'stroke-width':6},'legend-line-'+series[i][2]);
  });
  mk(g,'rect',{x:635,y:375,width:517,height:239,fill:'#fff',stroke:'#777','stroke-width':3},'inset-frame');
  const cin=mk(g,'g',{'clip-path':'url(#clipIn)'},'spectra-inset');
  series.forEach(s=>{
    mk(cin,'path',{d:smooth(aEnergy.map((e,i)=>[ix(e),iy(s[0][i])])),fill:'none',stroke:s[1],'stroke-width':5.5},'inset-spectrum-'+s[2]);
  });
  aInsetTicks.forEach((t,i)=>{
    tick(g,ix(t),614,ix(t),600,'#666',3,'inset-tick');
    tick(g,ix(t+3),614,ix(t+3),604,'#666',3,'inset-minor-tick');
    txt(g,ix(t),651,aInsetLabels[i],31,'middle','inset-tick-label');
  });
})();

/* ---------- panel b band diagram + lattice ---------- */
(function(){
  const g=$('panelB');
  const B=(x,y)=>[1250+x*1.2647,y*.5357];
  const blob=(pts,fill,name)=>{
    const p=pts.map(q=>B(q[0],q[1]));
    mk(g,'path',{d:smooth(p)+'Z',fill:fill},name);
  };
  mk(g,'path',{d:'M'+B(270,290)+'C'+B(480,298)+' '+B(480,392)+' '+B(270,400),fill:'none',stroke:'#ced6f2','stroke-width':6},'antibonding-orbital-b');
  blob([[267,1285],[240,1220],[215,1170],[100,1140],[75,1100],[170,980],[150,920],[180,880],[245,800],[267,620]],'#fdd9a0','o2p-x20-band');
  blob([[267,1490],[272,1400],[290,1270],[340,1200],[390,1150],[380,1080],[420,1010],[465,945],[380,912],[300,840],[267,790]],'#f6c39c','o2p-x00-band');
  blob([[267,870],[380,910],[420,860],[470,800],[370,755],[300,770],[267,810]],'#c9d8a9','o2p-x025-band');
  blob([[267,515],[400,590],[475,655],[440,710],[350,750],[300,720],[267,640]],'#8b9fd9','co3d-band-b');
  blob([[267,1285],[290,1100],[330,1050],[388,1000],[380,950],[310,860],[267,780]],'#cfa974','overlap-band-1');
  blob([[267,810],[290,775],[350,752],[300,720],[267,620]],'#7f9a8e','overlap-band-2');
  const a1=B(267,1500),a2=B(267,230);
  mk(g,'line',{x1:a1[0],y1:a1[1],x2:a2[0],y2:a2[1],stroke:'#000','stroke-width':4},'energy-axis-b');
  mk(g,'path',{d:'M1588,113L1580,132L1588,127L1596,132Z',fill:'#000'},'energy-arrow-b');
  mk(g,'line',{x1:1588,y1:268,x2:1848,y2:268,stroke:'#000','stroke-width':6},'fermi-level-b');
  mk(g,'line',{x1:1820,y1:429,x2:1842,y2:429,stroke:'#7aa84f','stroke-width':5},'o2p-x025-marker');
  mk(g,'line',{x1:1822,y1:509,x2:1850,y2:509,stroke:'#d79ad8','stroke-width':5},'o2p-x00-marker');
  mk(g,'line',{x1:1312,y1:596,x2:1342,y2:596,stroke:'#f2ae43','stroke-width':5},'o2p-x20-marker');

  const L=$('lattice');
  const rh=(cx,cy,hw,hh,fill,name)=>{
    const c0=B(cx,cy),w=hw*1.2647,h=hh*.5357;
    mk(L,'polygon',{points:[c0[0],c0[1]-h,c0[0]+w,c0[1],c0[0],c0[1]+h,c0[0]-w,c0[1]].join(' '),fill:fill},name);
    mk(L,'line',{x1:c0[0],y1:c0[1]-h,x2:c0[0],y2:c0[1]+h,stroke:'#000','stroke-opacity':.12,'stroke-width':3},name+'-edge');
  };
  [845,1109,1375].forEach(x=>rh(x,1025,66,108,'#a2a2a2','gray-octahedron'));
  [977,1241].forEach(x=>rh(x,1025,70,125,'#8fb8cf','co-octahedron-lower'));
  const half0=B(1510,900),half1=B(1510,1150),half2=B(1440,1025);
  mk(L,'polygon',{points:[half0,half1,half2].join(' '),fill:'#8fb8cf'},'co-octahedron-edge-half');
  [845,1110,1375].forEach(x=>rh(x,805,68,122,'#4d88ac','co-octahedron-upper'));
  [910,1043,1176,1308,1440].forEach(x=>rh(x,915,67,116,'#6fd05e','green-octahedron-lower'));
  [977,1240].forEach(x=>rh(x,800,66,115,'#6fd05e','green-octahedron-middle'));
  [1045,1310].forEach(x=>rh(x,690,66,108,'#6fd05e','green-octahedron-upper'));
  [[983,490,983,680,925,590],[1247,470,1247,680,1175,590]].forEach(t=>{
    const a=B(t[0],t[1]),b=B(t[2],t[3]),d=B(t[4],t[5]);
    mk(L,'polygon',{points:[a,b,d].join(' '),fill:'#8fb3c7'},'surface-tetrahedron');
  });
  const atom=(x,y,r,f,name,op)=>{
    const p=B(x,y);
    mk(L,'circle',{cx:p[0],cy:p[1],r:r,fill:'url(#'+f+')',opacity:op||1},name);
  };
  [[910,915],[1043,915],[1176,915],[1308,915],[1440,915],[977,800],[1240,800],[1045,690],[1310,690]].forEach(q=>atom(q[0],q[1],22,'aGreen','green-atom'));
  [845,1109,1375].forEach(x=>atom(x,1025,20,'aGray','gray-atom'));
  [943,1010,1208,1275,1472,812,878,1077,1142,1342,1407].forEach((x,i)=>atom(x,i<5?1025:805,24,'aBlue','cobalt-atom'));
  atom(945,585,24,'aBlue','cobalt-atom');
  atom(1208,585,24,'aBlue','cobalt-atom');
  const rows=[[1140,[845,977,1110,1241,1375,1510]],[1025,[782,907,1047,1172,1312,1436]],[925,[845,975,1110,1241,1375]],[805,[777,912,1042,1177,1307,1441]],[680,[845,975,1111,1241,1375]],[585,[1047,1312]]];
  rows.forEach(r=>r[1].forEach(x=>atom(x,r[0],20,'aRed','oxygen-atom')));
  atom(1505,910,21,'aRed','oxygen-atom');
  atom(908,585,27,'aRed','oxygen-halo',.22);
  atom(908,585,19,'aRed','oxygen-leaving');
  atom(983,465,27,'aRed','oxygen-halo',.22);
  atom(983,465,19,'aRed','oxygen-leaving');
  atom(1052,305,20,'aRed','o2-atom');
  atom(1080,300,20,'aRed','o2-atom');
  const bar=B(793,1200);
  mk(L,'rect',{x:bar[0],y:bar[1],width:919,height:75,fill:'#706868'},'substrate-bar');
  const plus=txt(L,2272,695,'+++++++++++++++++++++++++++++',37,'start','substrate-charges');
  plus.setAttribute('style','fill:#f2f2f2;font-family:"Liberation Sans",sans-serif');
  plus.setAttribute('textLength','866');
  mk(L,'rect',{x:2683,y:185,width:205,height:206,fill:'none',stroke:'#5575c9','stroke-width':4.5,'stroke-dasharray':'7 7'},'reconstruction-box');
  mk(L,'path',{d:'M2888,185C2930,180 2905,150 2983,150',fill:'none',stroke:'#4a86c6','stroke-width':4},'reconstruction-arrow');
  mk(L,'path',{d:'M2985,150L2970,142L2972,158Z',fill:'#4a86c6'},'reconstruction-arrow-head');
  mk(L,'path',{d:'M2755,249C2700,235 2720,180 2662,165',fill:'none',stroke:'#b13333','stroke-width':4},'oxygen-release-arrow');
  mk(L,'path',{d:'M2658,160L2674,164L2664,176Z',fill:'#b13333'},'oxygen-release-head');
  mk(L,'path',{d:'M2120,385C2200,370 2220,350 2238,320C2255,310 2300,312 2330,310',fill:'none',stroke:'#8ab85c','stroke-width':5,'stroke-dasharray':'10 9'},'migration-arrow');
  mk(L,'path',{d:'M2350,309L2332,300L2333,318Z',fill:'#8ab85c'},'migration-arrow-head');
  [[2831,226,'vacancy-box-top'],[2707,315,'vacancy-box-left']].forEach(v=>{
    mk(L,'rect',{x:v[0]-19,y:v[1]-19,width:38,height:38,fill:'#fff',stroke:'#e89aa0','stroke-width':2,'stroke-dasharray':'4 3'},v[2]);
    const t=txt(L,v[0],v[1]+8,'Vo',21,'middle',v[2]+'-label');
    t.setAttribute('font-weight','bold');
  });
})();

/* ---------- panel d ---------- */
(function(){
  const g=$('panelD');
  const anchors=[[0,1612],[120,2007],[480,2127],[960,2217],[1000,2313]];
  const dx=t=>{
    if(t<=120)return 1612+t*(2007-1612)/120;
    for(let i=1;i<anchors.length;i++){
      if(t<=anchors[i][0]){
        const a=anchors[i-1],b=anchors[i];
        return a[1]+(t-a[0])*(b[1]-a[1])/(b[0]-a[0]);
      }
    }
    return 2313;
  };
  const dy=v=>1489-(v-1.5)*162;
  mk(g,'rect',{x:1546,y:841,width:789,height:689,fill:'none',stroke:'#888','stroke-width':3},'plot-frame-d');
  mk(g,'line',{x1:1546,y1:841,x2:2335,y2:841,stroke:'#888','stroke-width':5},'top-spine-d');
  mk(g,'line',{x1:1546,y1:1530,x2:2335,y2:1530,stroke:'#888','stroke-width':5},'bottom-spine-d');
  dYTicks.forEach((t,i)=>{
    if(i<8)tick(g,1546,dy(t),1568,dy(t),'#666',3,'y-tick-d');
    if(i<8)tick(g,1546,dy(t+.25),1558,dy(t+.25),'#777',3,'y-minor-tick-d');
    txt(g,1528,dy(t)+15,dYLabels[i],42,'end','y-tick-label-d');
  });
  dXTicks.forEach((t,i)=>{
    tick(g,dx(t),1530,dx(t),1508,'#666',3,'x-tick-d');
    txt(g,i==5?dx(t)+2:dx(t),1592,dXLabels[i],40,'middle','x-tick-label-d');
  });
  [20,60,100].forEach(t=>tick(g,dx(t),1530,dx(t),1518,'#777',3,'x-minor-tick-d'));
  [2079,2209].forEach(x=>{
    [841,1530].forEach(y=>{
      mk(g,'rect',{x:x-7,y:y-6,width:14,height:12,fill:'#fff'},'axis-break-gap');
      mk(g,'line',{x1:x-12,y1:y+22,x2:x-2,y2:y-22,stroke:'#666','stroke-width':2.5},'axis-break-mark');
      mk(g,'line',{x1:x+2,y1:y+22,x2:x+12,y2:y-22,stroke:'#666','stroke-width':2.5},'axis-break-mark');
    });
  });
  mk(g,'path',{d:smooth(dFitT.map((t,i)=>[t<0?1612+t*3.29:dx(t),dy(dFitV[i])])),fill:'none',stroke:'#0f6cb8','stroke-width':6},'fit-curve');
  dTimes.forEach((t,i)=>{
    mk(g,'circle',{cx:dx(t),cy:dy(dValues[i]),r:15,fill:'none',stroke:'#5b80c2','stroke-width':5.5},'data-point-d');
  });
})();

/* ---------- panel e ---------- */
(function(){
  const g=$('panelE');
  const E=(x,y)=>[1350+x*1.2009,800+y*.574];
  const blob=(pts,attrs,name)=>{
    const a=Object.assign({d:smooth(pts.map(q=>E(q[0],q[1])))+'Z'},attrs);
    mk(g,'path',a,name);
  };
  mk(g,'path',{d:'M2653,949C2978,955 2978,1002 2653,1007',fill:'none',stroke:'#ced6f2','stroke-width':6},'antibonding-orbital-e');
  blob([[1082,460],[1200,520],[1330,565],[1350,590],[1320,630],[1230,665],[1160,675],[1130,650],[1082,555]],{fill:'#7a9aca'},'co3d-band-e');
  blob([[1082,555],[1130,650],[1170,680],[1110,690],[1082,745]],{fill:'#a4b5d6'},'co3d-overlap-e');
  blob([[1082,1300],[1090,1100],[1110,970],[1200,925],[1240,880],[1232,820],[1300,770],[1340,710],[1250,685],[1170,680],[1110,700],[1082,745]],{fill:'#e6e6e6',stroke:'#aaa','stroke-width':3,'stroke-dasharray':'8 6'},'o2p-before-band');
  blob([[1082,1410],[1095,1250],[1130,1150],[1200,1110],[1245,1060],[1230,1000],[1300,950],[1345,895],[1300,870],[1160,850],[1130,820],[1082,745]],{fill:'#c9c9c9',stroke:'#999','stroke-width':3},'o2p-after-band');
  blob([[1082,1300],[1090,1100],[1110,970],[1200,925],[1240,880],[1160,850],[1130,820],[1082,745]],{fill:'#b3b3b3',stroke:'#999','stroke-width':2,'stroke-dasharray':'8 6'},'o2p-overlap-e');
  mk(g,'line',{x1:2649,y1:1612,x2:2649,y2:875,stroke:'#000','stroke-width':4},'energy-axis-e');
  mk(g,'path',{d:'M2649,858L2640,884L2649,878L2658,884Z',fill:'#000'},'energy-arrow-e');
  mk(g,'line',{x1:2649,y1:1037,x2:2974,y2:1037,stroke:'#000','stroke-width':6},'fermi-level-e');
  mk(g,'line',{x1:2599,y1:1199,x2:2599,y2:1365,stroke:'#000','stroke-width':4},'o2p-shift-arrow');
  mk(g,'path',{d:'M2599,1378L2590,1352L2608,1352Z',fill:'#000'},'o2p-shift-arrow-head');
})();

/* ---------- crystal structures ---------- */
function crystalCell(host,T,o){
  const wire=o.wire||[];
  wire.forEach(w=>{
    mk(host,'polygon',{points:w.map(q=>T(q[0],q[1]).join(',')).join(' '),fill:'none',stroke:'#aaa','stroke-width':2},'unit-cell-edge');
  });
  (o.h||[]).forEach(q=>{
    const p=T(q[0],q[1]);
    mk(host,'circle',{cx:p[0],cy:p[1],r:3.5,fill:'#33c4c4'},'hydrogen-atom');
  });
  (o.li||[]).forEach(q=>{
    const p=T(q[0],q[1]);
    mk(host,'circle',{cx:p[0],cy:p[1],r:10,fill:'#c6d62a'},'lithium-atom');
  });
  (o.co||[]).forEach(q=>{
    const p=T(q[0],q[1]);
    const d=o.d||15;
    [[-1,-1],[1,-1],[-1,1],[1,1],[-.35,-1.5],[.35,1.5],[1.7,.1],[-1.7,-.1],[1.3,-.5],[-1.3,.5]].forEach(s=>{
      const ox=p[0]+s[0]*d,oy=p[1]+s[1]*d;
      mk(host,'line',{x1:p[0],y1:p[1],x2:ox,y2:oy,stroke:'#e22',"stroke-width":4},'co-o-bond');
      mk(host,'line',{x1:p[0],y1:p[1],x2:(p[0]+ox)/2,y2:(p[1]+oy)/2,stroke:'#26328f',"stroke-width":4},'co-o-bond-inner');
      mk(host,'circle',{cx:ox,cy:oy,r:4.5,fill:'#f01515'},'oxygen-atom');
    });
    mk(host,'circle',{cx:p[0],cy:p[1],r:o.r||8.5,fill:'#1f2d86'},'cobalt-atom');
  });
  (o.cl||[]).forEach(q=>{
    const p=T(q[0],q[1]);
    mk(host,'circle',{cx:p[0],cy:p[1],r:6,fill:'#22c422'},'chlorine-atom');
  });
}
function row(cx,y,n,sp){
  const out=[];
  for(let i=0;i<n;i++)out.push([cx+(i-(n-1)/2)*sp,y]);
  return out;
}

/* ---------- panel f ---------- */
(function(){
  const g=$('panelF');
  const F=(x,y)=>[x*.7015,1660+y*.5485];
  const fy=v=>2069-v*362.5;
  mk(g,'line',{x1:138,y1:1885,x2:138,y2:2250,stroke:'#888','stroke-width':2.5},'y-axis-f');
  fYTicks.forEach((t,i)=>{
    tick(g,131,fy(t),138,fy(t),'#888',2.5,'y-tick-f');
    if(i<4)tick(g,134,fy(t+.1),138,fy(t+.1),'#888',2,'y-minor-tick-f');
    txt(g,123,fy(t)+9,fYLabels[i],26,'end','y-tick-label-f').setAttribute('style','fill:#555');
  });
  crystalCell(g,F,{wire:[[[250,305],[370,305],[370,630],[250,630]]],li:[].concat(row(300,370,2,45),row(310,470,6,26),row(320,555,2,48)),co:[].concat(row(310,318,3,50),row(320,412,2,50),row(295,515,2,50),row(310,610,3,50)),d:12});
  crystalCell(g,F,{wire:[[[635,60],[755,60],[755,390],[635,390]]],co:[].concat(row(695,60,3,52),row(702,165,2,55),row(685,278,2,55),row(692,385,3,52)),d:13});
  crystalCell(g,F,{wire:[[[590,740],[750,700],[755,1165],[595,1200]]],li:[[620,812],[698,792],[605,958],[662,968],[655,1102],[712,1108]],co:[[592,742],[672,720],[650,878],[715,875],[620,1040],[690,1040],[605,1190],[660,1198]],d:20,r:10});
  crystalCell(g,F,{wire:[[[930,680],[1085,680],[1240,447],[1080,447]]],li:[[1160,505],[1008,620]],co:[[1085,505],[1045,592],[1125,592]],d:20,r:10});
  crystalCell(g,F,{wire:[[[1160,905],[1395,905],[1470,738],[1240,772]]],co:[[1395,790],[1240,832],[1320,842],[1205,918],[1243,905],[1280,918]],d:19,r:10});
  crystalCell(g,F,{wire:[[[988,1060],[1135,1060],[1135,1440],[988,1440]]],h:[[1020,1125],[1080,1125],[1000,1250],[1070,1245],[1130,1245],[1040,1375],[1100,1375],[990,1270],[1050,1270]],co:[].concat(row(1060,1065,3,58),row(1072,1185,2,60),row(1045,1322,2,62),row(1055,1432,3,60)),d:15});
  const lv=[[238,365],[620,748],[620,748],[1002,1130],[1002,1130],[1002,1130]];
  const dash=(x1,v1,x2,v2,col,name)=>{
    mk(g,'line',{x1:x1*.7015,y1:fy(v1),x2:x2*.7015,y2:fy(v2),stroke:col,'stroke-width':4,'stroke-dasharray':'19 13'},name);
  };
  dash(365,fLevels[0],620,fLevels[2],'#ee3344','red-pathway-f');
  dash(748,fLevels[2],1002,fLevels[3],'#ee3344','red-pathway-f');
  dash(365,fLevels[0],620,fLevels[1],'#2c5fc4','blue-pathway-f');
  dash(748,fLevels[1],1002,fLevels[5],'#2c5fc4','blue-pathway-f');
  fLevels.forEach((v,i)=>{
    mk(g,'line',{x1:lv[i][0]*.7015,y1:fy(v),x2:lv[i][1]*.7015,y2:fy(v),stroke:'#222','stroke-width':4.5},'energy-level-f');
  });
  const lp=[[210,2050],[477,1920],[477,1997],[747,2082],[747,2131],[747,2173]];
  fLevelLabels.forEach((s,i)=>{
    txt(g,lp[i][0],lp[i][1],s,26,'middle','energy-level-label-f');
  });
})();

/* ---------- panel g ---------- */
(function(){
  const g=$('panelG');
  const G=(x,y)=>[1050+x*.7972,1660+y*.5485];
  const gy=v=>2029-v*410;
  const ly=v=>2022-355*v;
  mk(g,'line',{x1:1235,y1:1823,x2:1235,y2:2236,stroke:'#888','stroke-width':2.5},'y-axis-g');
  gYTicks.forEach((t,i)=>{
    tick(g,1227,gy(t),1235,gy(t),'#888',2.5,'y-tick-g');
    if(i<4)tick(g,1231,gy(t+.1),1235,gy(t+.1),'#888',2,'y-minor-tick-g');
    txt(g,1213,gy(t)+10,gYLabels[i],28,'end','y-tick-label-g').setAttribute('style','fill:#555');
  });
  crystalCell(g,G,{wire:[[[268,160],[380,150],[380,510],[268,520]]],li:[[290,215],[335,212],[280,325],[325,322],[305,455],[360,440]],cl:[[370,232],[312,432]],co:[].concat(row(345,150,2,42),row(335,265,2,45),row(312,395,2,48),row(340,515,2,45)),d:12,r:7});
  crystalCell(g,G,{wire:[[[590,185],[715,160],[715,520],[590,535]]],cl:[[605,260],[698,255],[633,450]],co:[].concat(row(640,180,1,40),row(660,295,2,50),row(640,405,2,50),row(680,520,2,55)),d:14,r:7});
  crystalCell(g,G,{wire:[[[595,810],[715,785],[710,1200],[590,1225]]],li:[[600,880],[662,862],[600,1008],[640,1018],[630,1130],[685,1132]],cl:[[705,885]],co:[].concat(row(660,940,2,50),row(640,1075,2,55),row(670,1200,2,52)),d:14,r:7});
  crystalCell(g,G,{wire:[[[835,410],[980,420],[1105,755],[960,745]]],cl:[[905,455],[945,570],[1012,630],[990,685]],co:[[855,425],[895,430],[875,483],[935,478],[898,538],[945,545],[975,505],[920,600],[978,590],[1018,608],[940,655],[978,655],[962,708],[1020,700],[1060,728]],d:11,r:6});
  crystalCell(g,G,{wire:[[[1345,700],[1460,700],[1310,1040],[1172,1040]]],li:[[1320,708],[1308,795],[1410,810],[1268,885],[1218,935],[1215,1015]],cl:[[1338,775],[1265,940]],co:[[1342,740],[1390,745],[1340,800],[1365,800],[1295,855],[1315,865],[1340,855],[1315,915],[1243,968],[1265,978],[1290,968],[1265,1025]],d:11,r:6});
  crystalCell(g,G,{wire:[[[925,1085],[1075,1060],[1075,1440],[925,1460]]],h:[[950,1050],[1000,1140],[1080,1130],[945,1260],[1015,1260],[1070,1250],[915,1385],[960,1400],[1030,1400],[1100,1020],[945,1500]],cl:[[985,1152],[950,1180],[1052,1182],[950,1372],[990,1350]],co:[].concat(row(1020,1080,3,45),row(1000,1200,2,50),row(975,1330,2,55),row(1020,1435,3,45)),d:13,r:7});
  const X1=1351,X2=1528,X3=1618,X4=1797;
  const dash=(x1,v1,x2,v2,col,name)=>{
    mk(g,'line',{x1:x1,y1:ly(v1),x2:x2,y2:ly(v2),stroke:col,'stroke-width':4,'stroke-dasharray':'19 13'},name);
  };
  dash(X1,gLevels[0],X2,gLevels[2],'#ee3344','red-pathway-g');
  dash(X3,gLevels[2],X4,gLevels[4],'#ee3344','red-pathway-g');
  dash(X1,gLevels[0],X2,gLevels[1],'#2c5fc4','blue-pathway-g');
  dash(X3,gLevels[1],X4,gLevels[3],'#2c5fc4','blue-pathway-g');
  dash(X3,gLevels[1],X4,gLevels[5],'#2c5fc4','blue-pathway-g');
  const lx=[[1260,1351],[1528,1618],[1528,1618],[1797,1889],[1797,1889],[1797,1889]];
  gLevels.forEach((v,i)=>{
    mk(g,'line',{x1:lx[i][0],y1:ly(v),x2:lx[i][1],y2:ly(v),stroke:'#222','stroke-width':4.5},'energy-level-g');
  });
  const lp=[[1299,1992,'middle'],[1571,1992,'middle'],[1571,2065,'middle'],[1842,2114,'middle'],[1893,2151,'start'],[1843,2196,'middle']];
  gLevelLabels.forEach((s,i)=>{
    txt(g,lp[i][0],lp[i][1],s,29,lp[i][2],'energy-level-label-g');
  });
})();

/* ---------- panel h waves ---------- */
(function(){
  const wave=(x0,y0,x1,y1,n,amp)=>{
    const len=Math.hypot(x1-x0,y1-y0),ux=(x1-x0)/len,uy=(y1-y0)/len;
    let d='';
    const steps=n*16;
    for(let i=0;i<=steps;i++){
      const t=i/steps,s=Math.sin(t*n*2*Math.PI)*amp;
      d+=(i?'L':'M')+(x0+ux*len*t-uy*s).toFixed(1)+','+(y0+uy*len*t+ux*s).toFixed(1);
    }
    return d;
  };
  $('waveO').setAttribute('d',wave(2833,2129,2665,2172,3.5,13));
  $('waveB').setAttribute('d',wave(2642,2205,2806,2262,3.5,13));
})();

/* ---------- panel i ---------- */
function ball(g,x,y,r,fill,name){
  mk(g,'circle',{cx:x,cy:y,r:r,fill:'url(#'+fill+')'},name);
}
function errBar(g,x,y,ylo,yhi,col,name){
  mk(g,'line',{x1:x,y1:ylo,x2:x,y2:yhi,stroke:col,'stroke-width':2.5},name);
  mk(g,'line',{x1:x-8,y1:ylo,x2:x+8,y2:ylo,stroke:col,'stroke-width':2.5},name+'-cap');
  mk(g,'line',{x1:x-8,y1:yhi,x2:x+8,y2:yhi,stroke:col,'stroke-width':2.5},name+'-cap');
}
(function(){
  const g=$('panelI');
  const ix=p=>249+(p-1.2)*1360, iy=v=>3141.5-v*697;
  mk(g,'rect',{x:181,y:2512,width:859,height:699,fill:'none',stroke:'#777','stroke-width':3},'plot-frame-i');
  iYTicks.forEach((t,i)=>{
    tick(g,165,iy(t),181,iy(t),'#777',3,'y-tick-i');
    if(i<4)tick(g,170,iy(t+.1),181,iy(t+.1),'#777',3,'y-minor-tick-i');
    txt(g,144,iy(t)+15,iYLabels[i],43,'end','y-tick-label-i');
  });
  tick(g,165,3211,181,3211,'#777',3,'y-axis-end-i');
  iXLabelTicks.forEach((t,i)=>{
    tick(g,ix(t),3211,ix(t),3228,'#777',3,'x-tick-i');
    txt(g,ix(t),3281,iXLabels[i],43,'middle','x-tick-label-i');
  });
  iMinorX.forEach(t=>tick(g,ix(t),3211,ix(t),3224,'#777',3,'x-minor-tick-i'));
  txt(g,976,3273,'OCV',42,'middle','x-tick-label-ocv');
  txt(g,976,3314,'again',42,'middle','x-tick-label-again');
  const sets=[[iLiCoO2,iLiCoO2Err,'#f01818','bRed','licoo2'],[iCl01,iCl01Err,'#f58a1f','bOrange','cl01'],[iCl02,iCl02Err,'#111','bBlack','cl02']];
  sets.forEach(s=>{
    mk(g,'polyline',{points:iPotentials.map((p,i)=>ix(p)+','+iy(s[0][i])).join(' '),fill:'none',stroke:s[2],'stroke-width':4.5},'series-line-'+s[4]);
  });
  mk(g,'rect',{x:860,y:2600,width:16,height:610,fill:'#fff'},'axis-break-gap-i');
  [2512,3211].forEach(y=>{
    mk(g,'rect',{x:860,y:y-5,width:16,height:10,fill:'#fff'},'axis-break-spine-gap');
    mk(g,'line',{x1:853,y1:y+16,x2:865,y2:y-16,stroke:'#666','stroke-width':2.5},'axis-break-mark-i');
    mk(g,'line',{x1:871,y1:y+16,x2:883,y2:y-16,stroke:'#666','stroke-width':2.5},'axis-break-mark-i');
  });
  sets.forEach(s=>{
    iPotentials.forEach((p,i)=>{
      if(s[1][i]>0)errBar(g,ix(p),iy(s[0][i]),iy(s[0][i]-s[1][i]),iy(s[0][i]+s[1][i]),s[2],'error-bar-'+s[4]);
      ball(g,ix(p),iy(s[0][i]),13.5,s[3],'marker-'+s[4]);
    });
  });
  [[2554,'#f01818','bRed','licoo2'],[2629,'#f58a1f','bOrange','cl01'],[2696,'#111','bBlack','cl02']].forEach(l=>{
    mk(g,'line',{x1:199,y1:l[0],x2:302,y2:l[0],stroke:l[1],'stroke-width':4.5},'legend-line-'+l[3]);
    ball(g,249,l[0],13.5,l[2],'legend-marker-'+l[3]);
  });
})();

/* ---------- panel j ---------- */
(function(){
  const g=$('panelJ');
  const jx=p=>1312+(p-1.2)*1710, jy=v=>3183-v*3304;
  mk(g,'rect',{x:1227,y:2521,width:853,height:695,fill:'none',stroke:'#777','stroke-width':3},'plot-frame-j');
  jYTicks.forEach((t,i)=>{
    tick(g,1210,jy(t),1227,jy(t),'#777',3,'y-tick-j');
    if(i<4)tick(g,1216,jy(t+.025),1227,jy(t+.025),'#777',3,'y-minor-tick-j');
    txt(g,1194,jy(t)+15,jYLabels[i],43,'end','y-tick-label-j');
  });
  jXTicks.forEach((t,i)=>{
    tick(g,jx(t),3216,jx(t),3232,'#777',3,'x-tick-j');
    tick(g,jx(t+.05),3216,jx(t+.05),3227,'#777',3,'x-minor-tick-j');
    txt(g,jx(t),3286,jXLabels[i],43,'middle','x-tick-label-j');
  });
  tick(g,jx(1.15),3216,jx(1.15),3227,'#777',3,'x-minor-tick-j');
  mk(g,'polyline',{points:jPotentials.map((p,i)=>jx(p)+','+jy(jLiCoO2[i])).join(' '),fill:'none',stroke:'#f01818','stroke-width':4.5},'series-line-licoo2-j');
  mk(g,'polyline',{points:jPotentials.map((p,i)=>jx(p)+','+jy(jCl02[i])).join(' '),fill:'none',stroke:'#111','stroke-width':4.5},'series-line-cl02-j');
  jPotentials.forEach((p,i)=>{
    if(jLiCoO2Err[i]>0)errBar(g,jx(p),jy(jLiCoO2[i]),jy(jLiCoO2[i]-jLiCoO2Err[i]),jy(jLiCoO2[i]+jLiCoO2Err[i]),'#f25555','error-bar-licoo2-j');
    if(i>1)ball(g,jx(p),jy(jLiCoO2[i]),13.5,'bRed','marker-licoo2-j');
  });
  jPotentials.forEach((p,i)=>{
    if(jCl02Err[i]>0)errBar(g,jx(p),jy(jCl02[i]),jy(jCl02[i]-jCl02Err[i]),jy(jCl02[i]+jCl02Err[i]),'#333','error-bar-cl02-j');
    ball(g,jx(p),jy(jCl02[i]),13.5,'bBlack','marker-cl02-j');
  });
  [[2561,'#f01818','bRed','licoo2'],[2630,'#111','bBlack','cl02']].forEach(l=>{
    mk(g,'line',{x1:1246,y1:l[0],x2:1350,y2:l[0],stroke:l[1],'stroke-width':4.5},'legend-line-'+l[3]+'-j');
    ball(g,1297,l[0],13.5,l[2],'legend-marker-'+l[3]+'-j');
  });
})();

/* ---------- panel k ---------- */
(function(){
  const g=$('panelK');
  const kx=p=>2252+(p-1.3)*2298, ky=j=>3219-j*3.41;
  mk(g,'rect',{x:2252,y:2537,width:921,height:682,fill:'none',stroke:'#888','stroke-width':3},'plot-frame-k');
  kYTicks.forEach((t,i)=>{
    tick(g,2234,ky(t),2252,ky(t),'#777',3,'y-tick-k');
    if(i<2)tick(g,2240,ky(t+50),2252,ky(t+50),'#777',3,'y-minor-tick-k');
    txt(g,2216,ky(t)+(i==2?27:15),kYLabels[i],43,'end','y-tick-label-k');
  });
  kXTicks.forEach((t,i)=>{
    tick(g,kx(t),3219,kx(t),3236,'#777',3,'x-tick-k');
    if(i<4)tick(g,kx(t+.05),3219,kx(t+.05),3230,'#777',3,'x-minor-tick-k');
    txt(g,i==4?3146:kx(t),3281,kXLabels[i],43,'middle','x-tick-label-k');
  });
  const sets=[[kBlackP,kBlackJ,'#000','cl02'],[kOrangeP,kOrangeJ,'#ff8c1a','cl01'],[kGreenP,kGreenJ,'#0a8a16','ruo2'],[kBlueP,kBlueJ,'#0a12f0','co3o4'],[kRedP,kRedJ,'#f00a0a','licoo2'],[kMagentaP,kMagentaJ,'#f41cf0','bscf']];
  const c=mk(g,'g',{'clip-path':'url(#clipK)'},'polarization-curves');
  sets.forEach(s=>{
    mk(c,'path',{d:smooth(s[0].map((p,i)=>[kx(p),ky(s[1][i])])),fill:'none',stroke:s[2],'stroke-width':s[3]=='licoo2'?8:6},'polarization-curve-'+s[3]);
  });
  [[2578,'#000','cl02'],[2650,'#ff8c1a','cl01'],[2721,'#f00a0a','licoo2'],[2791,'#0a12f0','co3o4'],[2861,'#0a8a16','ruo2'],[2932,'#f41cf0','bscf']].forEach(l=>{
    mk(g,'line',{x1:2272,y1:l[0],x2:2380,y2:l[0],stroke:l[1],'stroke-width':7,'stroke-linecap':'round'},'legend-line-'+l[2]+'-k');
  });
})();
</script>
</body>
</html>
